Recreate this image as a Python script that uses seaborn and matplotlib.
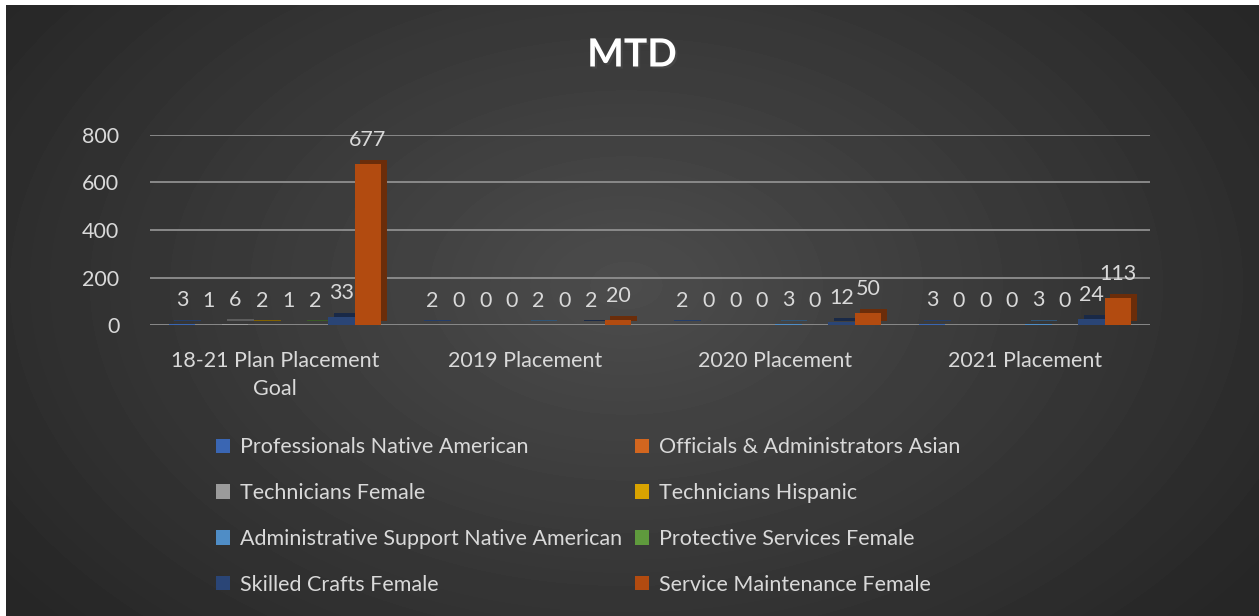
import numpy as np
import pandas as pd
import seaborn as sns
import matplotlib.pyplot as plt
import matplotlib.patheffects as pe
from matplotlib.colors import to_rgb

categories = ["18-21 Plan Placement\nGoal", "2019 Placement", "2020 Placement", "2021 Placement"]
series = ["Professionals Native American", "Officials & Administrators Asian",
          "Technicians Female", "Technicians Hispanic",
          "Administrative Support Native American", "Protective Services Female",
          "Skilled Crafts Female", "Service Maintenance Female"]
prof_native = [3, 2, 2, 3]
officials_asian = [1, 0, 0, 0]
tech_female = [6, 0, 0, 0]
tech_hispanic = [2, 0, 0, 0]
admin_native = [1, 2, 3, 3]
protective_female = [2, 0, 0, 0]
skilled_female = [33, 2, 12, 24]
service_female = [677, 20, 50, 113]
colors = ["#3a66b3", "#d2661f", "#9b9b9b", "#d9a300",
          "#4f8dc6", "#5f9a3d", "#2a4576", "#b24b10"]

values = [prof_native, officials_asian, tech_female, tech_hispanic,
          admin_native, protective_female, skilled_female, service_female]
rows = []
for s, vals in zip(series, values):
    for c, v in zip(categories, vals):
        rows.append({"category": c, "series": s, "value": v})
df = pd.DataFrame(rows)

sns.set_theme(style="dark")
plt.rcParams['font.family'] = ['Lato', 'DejaVu Sans']
txt = "#d9d9d9"

fig = plt.figure(figsize=(12.59, 6.16), dpi=100)
fig.patch.set_facecolor("white")

# radial gradient background
bg = fig.add_axes([6 / 1259, 0, 1 - 6 / 1259, 1 - 5 / 616])
yy, xx = np.mgrid[0:611, 0:1253]
r = np.sqrt(((xx - 620) / 820) ** 2 + ((yy - 280) / 540) ** 2)
shade = np.clip(0.30 - 0.16 * r, 0.15, 0.30)
bg.imshow(shade, cmap="gray", vmin=0, vmax=1, aspect="auto")
bg.set_axis_off()

ax = fig.add_axes([150 / 1259, 1 - 325 / 616, 1000 / 1259, 190 / 616])
ax.set_facecolor("none")
sns.barplot(data=df, x="category", y="value", hue="series", palette=colors,
            width=0.85, saturation=1, linewidth=0, ax=ax)
ax.set_ylim(0, 800)
ax.set_yticks([0, 200, 400, 600, 800])
ax.grid(axis="y", color="#8f8f8f", linewidth=1.3)
ax.grid(axis="x", visible=False)
for sp in ax.spines.values():
    sp.set_visible(False)
ax.tick_params(axis="both", length=0, labelsize=15.5, colors=txt)
ax.tick_params(axis="x", pad=19)
ax.tick_params(axis="y", pad=22)
for t in ax.get_xticklabels():
    t.set_linespacing(1.5)
ax.set_xlabel("")
ax.set_ylabel("")

# fake depth on the columns
for cont, col in zip(ax.containers, colors):
    side = tuple(c * 0.6 for c in to_rgb(col))
    for bar in cont:
        bar.set_path_effects([pe.SimplePatchShadow(offset=(4, 3), shadow_rgbFace=side, alpha=1),
                              pe.Normal()])
    ax.bar_label(cont, fmt="%g", padding=10, fontsize=15.5, color=txt)

handles, labels = ax.get_legend_handles_labels()
ax.legend_.remove()
order = [0, 2, 4, 6, 1, 3, 5, 7]
fig.legend([handles[i] for i in order], [labels[i] for i in order],
           loc="upper left", bbox_to_anchor=(197 / 1259, 1 - 418 / 616),
           ncol=2, frameon=False, fontsize=15.5, labelcolor=txt,
           handlelength=0.65, handleheight=0.65, handletextpad=0.45,
           labelspacing=1.2, columnspacing=0.6)

fig.text(0.502, 1 - 55 / 616, "MTD", ha="center", va="center", fontsize=28,
         fontweight="bold", color="white",
         path_effects=[pe.withSimplePatchShadow(offset=(1.5, -1.5), alpha=0.6)])

fig.savefig("out.png", dpi=100)
